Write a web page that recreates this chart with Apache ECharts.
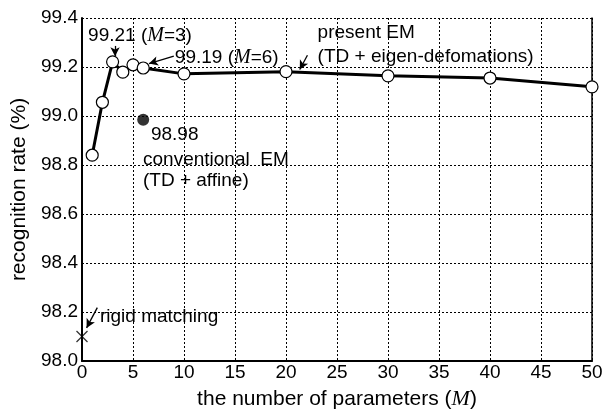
<!DOCTYPE html>
<html>
<head>
<meta charset="utf-8">
<script src="https://cdn.jsdelivr.net/npm/echarts@6/dist/echarts.min.js"></script>
<style>
  html, body { margin: 0; padding: 0; background: #fff; }
  #chart { width: 607px; height: 415px; }
</style>
</head>
<body>
<div id="chart"></div>
<script>
// data
var params = [1, 2, 3, 4, 5, 6, 10, 20, 30, 40, 50];
var presentEM = [98.84, 99.056, 99.221, 99.179, 99.209, 99.196, 99.172, 99.181, 99.164, 99.155, 99.119];
var conventionalEM = [[6, 98.985]];
var rigidMatching = [[0, 98.1]];
var xTicks = [0, 50, 5];
var yTicks = [98.0, 99.4, 0.2];

var font = "'Liberation Sans', Arial, sans-serif";
var rich = {
  i: { fontFamily: "'Liberation Serif', 'Times New Roman', serif", fontStyle: 'italic', fontSize: 20, color: '#000' }
};
var richName = {
  i: { fontFamily: "'Liberation Serif', 'Times New Roman', serif", fontStyle: 'italic', fontSize: 22, color: '#000' }
};

// annotation text (left / middle anchored) and arrows, in data units
var notes = [
  { coord: [0.6, 99.328], text: '99.21 ({i|M}=3)', lh: 22 },
  { coord: [9.1, 99.236], text: '99.19 ({i|M}=6)', lh: 22 },
  { coord: [23.1, 99.29], text: 'present EM\n(TD + eigen-defomations)', lh: 24 },
  { coord: [6.76, 98.922], text: '98.98', lh: 22 },
  { coord: [5.98, 98.78], text: 'conventional  EM\n(TD + affine)', lh: 21 },
  { coord: [1.76, 98.182], text: 'rigid matching', lh: 22 }
];
var arrows = [
  [[3.24, 99.286], [3.24, 99.244]],
  [[9.0, 99.244], [6.57, 99.214]],
  [[22.1, 99.248], [21.35, 99.19]],
  [[1.5, 98.218], [0.45, 98.135]]
];

var chart = echarts.init(document.getElementById('chart'));

var option = {
  animation: false,
  backgroundColor: '#fff',
  textStyle: { fontFamily: font },
  grid: { left: 82, right: 15, top: 18, bottom: 47 },
  xAxis: {
    type: 'value',
    min: xTicks[0], max: xTicks[1], interval: xTicks[2],
    name: 'the number of parameters ({i|M})',
    nameLocation: 'middle',
    nameGap: 27,
    nameTextStyle: { fontSize: 21, color: '#000', fontFamily: font, rich: richName },
    axisLine: { lineStyle: { color: '#000', width: 2 } },
    axisTick: { show: false },
    axisLabel: { color: '#000', fontSize: 19, fontFamily: font, margin: 2 },
    splitLine: { lineStyle: { color: '#000', width: 1, type: [2, 2] } }
  },
  yAxis: [{
    type: 'value',
    min: yTicks[0], max: yTicks[1], interval: yTicks[2],
    name: 'recognition rate (%)',
    nameLocation: 'middle',
    nameGap: 46,
    nameTextStyle: { fontSize: 21, color: '#000', fontFamily: font },
    axisLine: { show: true, lineStyle: { color: '#000', width: 2 } },
    axisTick: { show: false },
    axisLabel: {
      color: '#000', fontSize: 19, fontFamily: font, margin: 4,
      formatter: function (v) { return v.toFixed(1); }
    },
    splitLine: { lineStyle: { color: '#000', width: 1, type: [2, 2] } }
  }, {
    type: 'value',
    position: 'right',
    min: yTicks[0], max: yTicks[1], interval: yTicks[2],
    axisLine: { show: true, lineStyle: { color: '#000', width: 1.5 } },
    axisTick: { show: false },
    axisLabel: { show: false },
    splitLine: { show: false }
  }],
  series: [
    {
      name: 'present EM',
      type: 'line',
      data: params.map(function (p, i) { return [p, presentEM[i]]; }),
      symbol: 'circle',
      symbolSize: 12,
      showAllSymbol: true,
      clip: false,
      lineStyle: { color: '#000', width: 3 },
      itemStyle: { color: '#fff', borderColor: '#000', borderWidth: 1.2 },
      z: 3,
      markPoint: {
        symbol: 'circle',
        symbolSize: 0,
        silent: true,
        label: {
          show: true,
          position: 'right',
          distance: 0,
          color: '#000',
          fontSize: 19,
          fontFamily: font,
          rich: rich,
          formatter: function (p) { return p.data.text; }
        },
        data: notes.map(function (n) {
          return { coord: n.coord, text: n.text, label: { lineHeight: n.lh } };
        })
      },
      markLine: {
        silent: true,
        symbol: ['none', 'arrow'],
        symbolSize: [7, 9],
        label: { show: false },
        lineStyle: { color: '#000', width: 1.3, type: 'solid' },
        data: arrows.map(function (a) { return [{ coord: a[0] }, { coord: a[1] }]; })
      }
    },
    {
      name: 'conventional EM',
      type: 'scatter',
      data: conventionalEM,
      symbol: 'circle',
      symbolSize: 12,
      itemStyle: { color: '#000' },
      z: 4
    },
    {
      name: 'rigid matching',
      type: 'scatter',
      data: rigidMatching,
      symbol: 'path://M0,0L10,10M10,0L0,10',
      symbolSize: 11,
      clip: false,
      itemStyle: { color: 'none', borderColor: '#000', borderWidth: 1.3 },
      z: 4
    }
  ]
};

chart.setOption(option);
</script>
</body>
</html>
